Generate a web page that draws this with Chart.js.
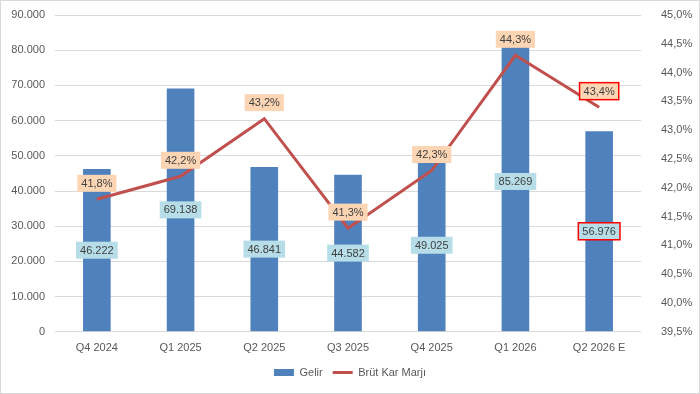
<!DOCTYPE html>
<html>
<head>
<meta charset="utf-8">
<script src="https://cdn.jsdelivr.net/npm/chart.js@4"></script>
<style>
  html, body { margin: 0; padding: 0; background: #fff; }
  #wrap { width: 700px; height: 394px; box-sizing: border-box; border: 1px solid #d9d9d9; position: relative; }
</style>
</head>
<body>
<div id="wrap"><canvas id="chart"></canvas></div>
<script>
const quarters = ['Q4 2024', 'Q1 2025', 'Q2 2025', 'Q3 2025', 'Q4 2025', 'Q1 2026', 'Q2 2026 E'];
const gelir = [46222, 69138, 46841, 44582, 49025, 85269, 56976];
const brutKarMarji = [41.8, 42.2, 43.2, 41.3, 42.3, 44.3, 43.4];
// last point is the estimate, boxed in red
const highlighted = [false, false, false, false, false, false, true];

const fmtTR = n => Number(n).toLocaleString('de-DE', { maximumFractionDigits: 0 });
const fmtPct = n => n.toFixed(1).replace('.', ',') + '%';

const FONT = '"Liberation Sans", Arial, sans-serif';

// draws the boxed value labels (bar centre / above line points)
const boxLabels = {
  id: 'boxLabels',
  afterDatasetsDraw(chart) {
    const ctx = chart.ctx;
    ctx.save();
    ctx.font = '11px ' + FONT;
    ctx.textAlign = 'center';
    ctx.textBaseline = 'middle';
    chart.data.datasets.forEach((ds, di) => {
      const meta = chart.getDatasetMeta(di);
      meta.data.forEach((el, i) => {
        let text, x, y, bg;
        if (ds.type === 'bar') {
          text = fmtTR(ds.data[i]);
          x = el.x;
          y = (el.y + el.base) / 2;
          bg = '#b7dee8';
        } else {
          text = fmtPct(ds.data[i]);
          x = el.x;
          y = el.y - 16;
          bg = '#fcd5b4';
        }
        const w = ctx.measureText(text).width + 8;
        const h = 17;
        ctx.fillStyle = bg;
        ctx.fillRect(x - w / 2, y - h / 2, w, h);
        if (highlighted[i]) {
          ctx.strokeStyle = '#ff0000';
          ctx.lineWidth = 1.5;
          ctx.strokeRect(x - w / 2, y - h / 2, w, h);
        }
        ctx.fillStyle = '#404040';
        ctx.fillText(text, x, y + 0.5);
      });
    });
    ctx.restore();
  }
};

const noVPad = scale => { scale.paddingTop = 0; scale.paddingBottom = 0; };

new Chart(document.getElementById('chart'), {
  data: {
    labels: quarters,
    datasets: [
      {
        type: 'bar',
        label: 'Gelir',
        data: gelir,
        backgroundColor: '#4f81bd',
        yAxisID: 'y',
        barPercentage: 0.33,
        categoryPercentage: 1,
        order: 2
      },
      {
        type: 'line',
        label: 'Brüt Kar Marjı',
        data: brutKarMarji,
        borderColor: '#c0504d',
        backgroundColor: '#c0504d',
        borderWidth: 3,
        pointRadius: 0,
        tension: 0,
        yAxisID: 'y1',
        order: 1
      }
    ]
  },
  options: {
    responsive: true,
    maintainAspectRatio: false,
    animation: false,
    layout: { padding: { top: 14, bottom: 5, left: 0, right: 0 } },
    plugins: {
      tooltip: { enabled: false },
      legend: {
        position: 'bottom',
        labels: {
          font: { family: FONT, size: 11 },
          color: '#595959',
          usePointStyle: true,
          boxHeight: 7,
          pointStyleWidth: 20,
          padding: 10,
          generateLabels(chart) {
            return chart.data.datasets.map((ds, i) => ({
              text: ds.label,
              fillStyle: ds.backgroundColor,
              strokeStyle: ds.type === 'bar' ? ds.backgroundColor : ds.borderColor,
              lineWidth: ds.type === 'bar' ? 0 : 3,
              pointStyle: ds.type === 'bar' ? 'rect' : 'line',
              fontColor: '#595959',
              datasetIndex: i
            }));
          }
        }
      }
    },
    scales: {
      x: {
        grid: { display: false },
        border: { display: false },
        ticks: { color: '#595959', font: { family: FONT, size: 11 }, padding: 2 }
      },
      y: {
        position: 'left',
        min: 0,
        max: 90000,
        ticks: {
          stepSize: 10000,
          color: '#595959',
          font: { family: FONT, size: 11 },
          padding: 10,
          callback: v => fmtTR(v)
        },
        grid: { color: '#d9d9d9', drawTicks: false },
        border: { display: false },
        afterFit(scale) { scale.width = 54; noVPad(scale); }
      },
      y1: {
        position: 'right',
        min: 39.5,
        max: 45,
        ticks: {
          stepSize: 0.5,
          color: '#595959',
          font: { family: FONT, size: 11 },
          padding: 12,
          callback: v => fmtPct(v)
        },
        grid: { display: false },
        border: { display: false },
        afterFit(scale) { scale.width = 58; noVPad(scale); }
      }
    }
  },
  plugins: [boxLabels]
});
</script>
</body>
</html>
